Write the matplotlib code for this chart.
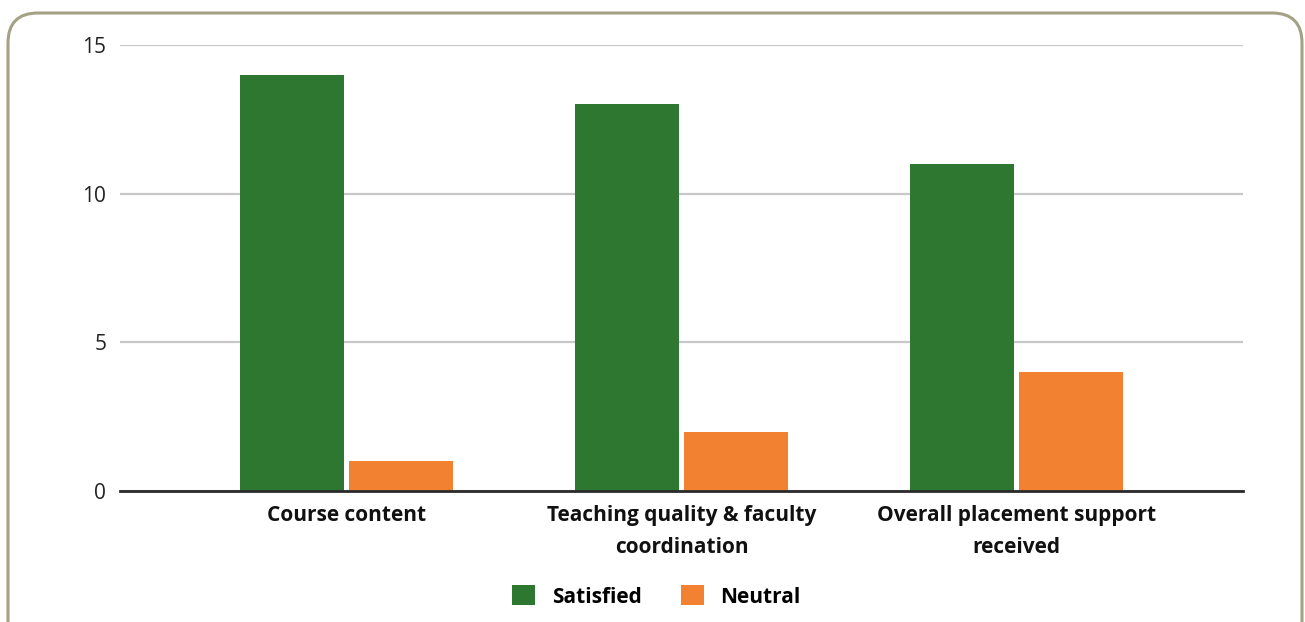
import matplotlib.pyplot as plt
import numpy as np
from matplotlib.patches import FancyBboxPatch

# survey responses per aspect
categories = ["Course content", "Teaching quality & faculty\ncoordination",
              "Overall placement support\nreceived"]
satisfied = [14, 13, 11]
neutral = [1, 2, 4]
yticks = [0, 5, 10, 15]

green = "#2e7731"
orange = "#f28232"

plt.rcParams['font.family'] = ['Open Sans', 'DejaVu Sans']

fig = plt.figure(figsize=(13.05, 6.22), dpi=100)
ax = fig.add_axes([0.092, 0.2106, 0.8605, 0.717])

x = np.arange(len(categories))
w = 0.31
gap = 0.008
ax.bar(x - w / 2 - gap, satisfied, w, color=green, label="Satisfied", zorder=3)
ax.bar(x + w / 2 + gap, neutral, w, color=orange, label="Neutral", zorder=3)

ax.set_xlim(-0.675, 2.675)
ax.set_ylim(0, 15)
ax.set_yticks(yticks)
ax.yaxis.grid(True, color="#c8c8c8", linewidth=1.6, zorder=0)
ax.set_xticks(x)
ax.set_xticklabels(categories, fontsize=15, fontweight="bold", color="#111111",
                   linespacing=1.7)
ax.tick_params(axis="y", length=0, labelsize=15, labelcolor="#222222", pad=10)
ax.tick_params(axis="x", length=0, pad=10)
for s in ["top", "left", "right"]:
    ax.spines[s].set_visible(False)
ax.spines["bottom"].set_color("#2a2a2a")
ax.spines["bottom"].set_linewidth(2)
ax.spines["bottom"].set_zorder(4)

leg = fig.legend(loc="center", bbox_to_anchor=(0.503, 0.041), ncol=2, frameon=False,
                 prop={"size": 15, "weight": "bold"}, handlelength=1.1,
                 handleheight=1.1, handletextpad=0.8, columnspacing=1.9)

# rounded border around the whole chart
frame = FancyBboxPatch((8, -40), 1294, 649, boxstyle="round,pad=0,rounding_size=30",
                       transform=None, facecolor="none", edgecolor="#a3a285",
                       linewidth=2.2, zorder=10)
fig.patches.append(frame)

fig.savefig("out.png", dpi=100)
